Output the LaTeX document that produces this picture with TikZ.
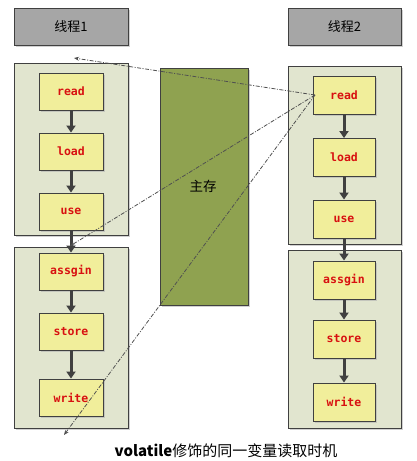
\documentclass[tikz,border=0pt]{standalone}
\usepackage{fontspec}
\setmainfont{Noto Sans CJK SC}
\newfontfamily\monofnt{DejaVu Sans Mono}
\usetikzlibrary{arrows.meta,shadows}
\definecolor{edgec}{HTML}{404040}
\definecolor{contfill}{HTML}{E1E5CF}
\definecolor{stepfill}{HTML}{F1EE9B}
\definecolor{memfill}{HTML}{8FA250}
\definecolor{titlefill}{HTML}{A6A6A6}
\definecolor{stepred}{HTML}{D81010}
\definecolor{dashc}{HTML}{505050}
\tikzset{
  shd/.style={drop shadow={shadow xshift=1.5pt,shadow yshift=-1.5pt,fill=black!30,opacity=.6}},
  titlebox/.style={draw=edgec,line width=0.9pt,fill=titlefill,shd,minimum width=114pt,minimum height=37pt,inner sep=0pt,font=\fontsize{13}{15}\selectfont},
  contbox/.style={draw=edgec,line width=0.9pt,fill=contfill,shd},
  stepbox/.style={draw=edgec,line width=0.9pt,fill=stepfill,shd,inner sep=0pt,text=stepred,font=\monofnt\bfseries\fontsize{11.5}{13}\selectfont},
  lstep/.style={stepbox,minimum width=64pt,minimum height=37pt},
  rstep/.style={stepbox,minimum width=62pt,minimum height=38pt},
  flow/.style={draw=edgec,line width=3pt,-{Triangle[width=9pt,length=7pt]}},
  dd/.style={draw=dashc,line width=0.8pt,dash pattern=on 4pt off 1.5pt on 1pt off 1.5pt,-{Stealth[length=5pt,width=4pt]}}
}
\begin{document}
\begin{tikzpicture}[x=1pt,y=-1pt]
\useasboundingbox (0,0) rectangle (416,461);
% titles
\node[titlebox] (t1) at (71,26.5) {线程1};
\node[titlebox,minimum width=113pt] (t2) at (344.5,26.5) {线程2};
% containers
\path[contbox] (14,63) rectangle (128,235);
\path[contbox] (14,247) rectangle (128,428);
\path[contbox] (288,66) rectangle (401,244);
\path[contbox] (288,250) rectangle (401,428);
% main memory
\node[draw=edgec,line width=0.9pt,fill=memfill,shd,minimum width=88pt,minimum height=237pt,inner sep=0pt] (mem) at (204,186.5) {};
\node[font=\fontsize{13.5}{15}\selectfont] (memlabel) at (203,186) {主存};
% left steps
\node[lstep] (L1) at (71,91.5) {read};
\node[lstep] (L2) at (71,151.5) {load};
\node[lstep] (L3) at (71,211.5) {use};
\node[lstep] (L4) at (71,271.5) {assgin};
\node[lstep] (L5) at (71,331.5) {store};
\node[lstep] (L6) at (71,397.5) {write};
% right steps
\node[rstep] (R1) at (344,95) {read};
\node[rstep] (R2) at (344,157.5) {load};
\node[rstep] (R3) at (344,219) {use};
\node[rstep] (R4) at (344,280) {assgin};
\node[rstep] (R5) at (344,339) {store};
\node[rstep] (R6) at (344,402) {write};
% flow arrows
\draw[flow] (L1) -- (L2);
\draw[flow] (L2) -- (L3);
\draw[flow] (L3) -- (L4);
\draw[flow] (L4) -- (L5);
\draw[flow] (L5) -- (L6);
\draw[flow] (R1) -- (R2);
\draw[flow] (R2) -- (R3);
\draw[flow] (R3) -- (R4);
\draw[flow] (R4) -- (R5);
\draw[flow] (R5) -- (R6);
% dash-dot lines
\coordinate (src) at (315,95);
\coordinate (e1) at (74,58);
\coordinate (e2) at (70,246);
\coordinate (e3) at (64,435);
\draw[dd] (src) -- (e1);
\draw[dd] (src) -- (e2);
\draw[dd] (src) -- (e3);
% caption
\node[font=\fontsize{15}{17}\selectfont] (cap) at (226,451) {\textbf{volatile}修饰的同一变量读取时机};
\end{tikzpicture}
\end{document}
